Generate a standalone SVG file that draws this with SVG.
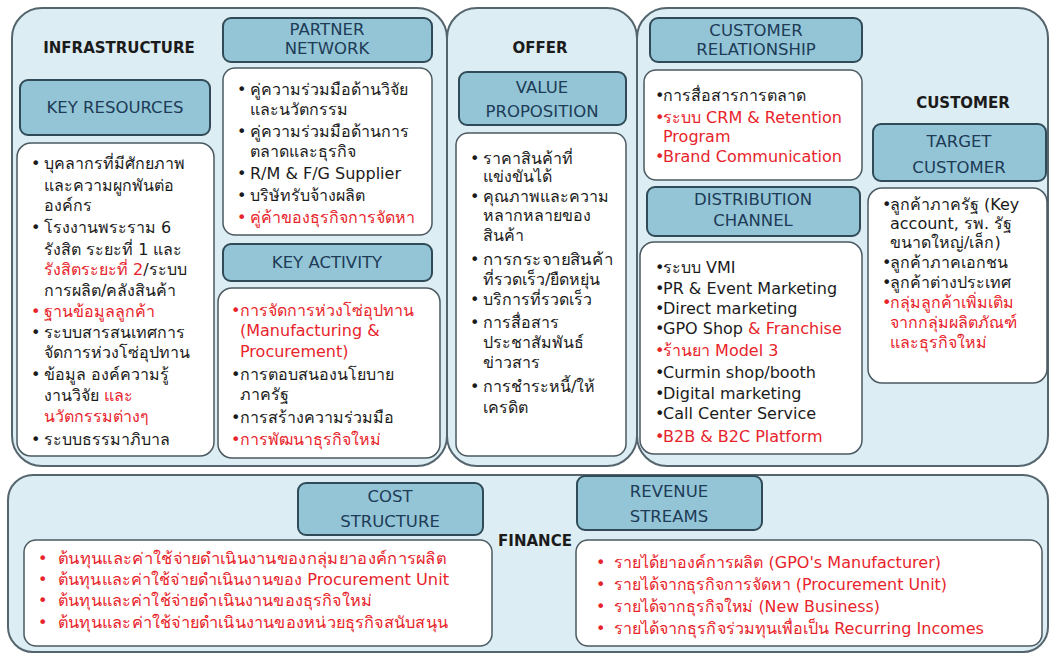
<svg xmlns="http://www.w3.org/2000/svg" width="1052" height="656" viewBox="0 0 1052 656">
<style>
.panel{fill:#dcedf3;stroke:#55656d;stroke-width:2}
.hdr{fill:#93c5d6;stroke:#304b57;stroke-width:2}
.box{fill:#ffffff;stroke:#4b5960;stroke-width:1.5}
.ht{font-family:"DejaVu Sans","Noto Sans",sans-serif;font-size:16.5px;fill:#203b56;text-anchor:middle}
.lbl{font-family:"DejaVu Sans","Noto Sans",sans-serif;font-size:15px;font-weight:bold;fill:#1b1b1b;text-anchor:middle}
.t{font-family:"DejaVu Sans","Noto Sans",sans-serif;font-size:16px;fill:#1b1b1b}
.r{fill:#e8242b}
</style>
<rect width="1052" height="656" fill="#ffffff"/>
<g id="panels">
<rect id="infrastructure" class="panel" x="12" y="8" width="435" height="458" rx="30"/>
<rect id="offer" class="panel" x="447" y="8" width="190" height="458" rx="30"/>
<rect id="customer" class="panel" x="637" y="8" width="411" height="458" rx="30"/>
<rect id="finance" class="panel" x="8" y="475" width="1040" height="177" rx="25"/>
<text class="lbl" x="119" y="53">INFRASTRUCTURE</text>
<text class="lbl" x="540" y="53">OFFER</text>
<text class="lbl" x="963" y="108">CUSTOMER</text>
<text class="lbl" x="535" y="546">FINANCE</text>
</g>
<g id="connectors"/>
<g id="key-resources">
<rect class="hdr" x="20" y="80" width="190" height="55" rx="8"/>
<text class="ht" x="115" y="113">KEY RESOURCES</text>
<rect class="box" x="17" y="143" width="197" height="313" rx="14"/>
<text class="t" x="31" y="169">•</text><text class="t" x="44" y="169">บุคลากรที่มีศักยภาพ</text>
<text class="t" x="44" y="191">และความผูกพันต่อ</text>
<text class="t" x="44" y="211">องค์กร</text>
<text class="t" x="31" y="233">•</text><text class="t" x="44" y="233">โรงงานพระราม 6</text>
<text class="t" x="44" y="255">รังสิต ระยะที่ 1 และ</text>
<text class="t" x="44" y="275"><tspan class="r">รังสิตระยะที่ 2</tspan>/ระบบ</text>
<text class="t" x="44" y="296">การผลิต/คลังสินค้า</text>
<text class="t r" x="31" y="317">•</text><text class="t r" x="44" y="317">ฐานข้อมูลลูกค้า</text>
<text class="t" x="31" y="338">•</text><text class="t" x="44" y="338">ระบบสารสนเทศการ</text>
<text class="t" x="44" y="358">จัดการห่วงโซ่อุปทาน</text>
<text class="t" x="31" y="380">•</text><text class="t" x="44" y="380">ข้อมูล องค์ความรู้</text>
<text class="t" x="44" y="401">งานวิจัย <tspan class="r">และ</tspan></text>
<text class="t r" x="44" y="422">นวัตกรรมต่างๆ</text>
<text class="t" x="31" y="445">•</text><text class="t" x="44" y="445">ระบบธรรมาภิบาล</text>
</g>
<g id="partner-network">
<rect class="hdr" x="223" y="18" width="209" height="44" rx="8"/>
<text class="ht" x="327" y="35">PARTNER</text>
<text class="ht" x="327" y="54">NETWORK</text>
<rect class="box" x="223" y="68" width="209" height="167" rx="12"/>
<text class="t" x="237" y="95">•</text><text class="t" x="250" y="95">คู่ความร่วมมือด้านวิจัย</text>
<text class="t" x="250" y="115">และนวัตกรรม</text>
<text class="t" x="237" y="137">•</text><text class="t" x="250" y="137">คู่ความร่วมมือด้านการ</text>
<text class="t" x="250" y="157">ตลาดและธุรกิจ</text>
<text class="t" x="237" y="179">•</text><text class="t" x="250" y="179">R/M &amp; F/G Supplier</text>
<text class="t" x="237" y="201">•</text><text class="t" x="250" y="201">บริษัทรับจ้างผลิต</text>
<text class="t r" x="237" y="223">•</text><text class="t r" x="250" y="223">คู่ค้าของธุรกิจการจัดหา</text>
</g>
<g id="key-activity">
<rect class="hdr" x="223" y="244" width="209" height="37" rx="8"/>
<text class="ht" x="327" y="268">KEY ACTIVITY</text>
<rect class="box" x="218" y="288" width="222" height="170" rx="14"/>
<text class="t r" x="231" y="316">•</text><text class="t r" x="240" y="316">การจัดการห่วงโซ่อุปทาน</text>
<text class="t r" x="240" y="336">(Manufacturing &amp;</text>
<text class="t r" x="240" y="357">Procurement)</text>
<text class="t" x="231" y="380">•</text><text class="t" x="240" y="380">การตอบสนองนโยบาย</text>
<text class="t" x="240" y="400">ภาครัฐ</text>
<text class="t" x="231" y="423">•</text><text class="t" x="240" y="423">การสร้างความร่วมมือ</text>
<text class="t r" x="231" y="445">•</text><text class="t r" x="240" y="445">การพัฒนาธุรกิจใหม่</text>
</g>
<g id="value-proposition">
<rect class="hdr" x="459" y="72" width="167" height="53" rx="8"/>
<text class="ht" x="542" y="93">VALUE</text>
<text class="ht" x="542" y="117">PROPOSITION</text>
<rect class="box" x="456" y="133" width="170" height="323" rx="12"/>
<text class="t" x="470" y="164">•</text><text class="t" x="483" y="164">ราคาสินค้าที่</text>
<text class="t" x="483" y="182">แข่งขันได้</text>
<text class="t" x="470" y="202">•</text><text class="t" x="483" y="202">คุณภาพและความ</text>
<text class="t" x="483" y="221">หลากหลายของ</text>
<text class="t" x="483" y="241">สินค้า</text>
<text class="t" x="470" y="265">•</text><text class="t" x="483" y="265" textLength="130" lengthAdjust="spacingAndGlyphs">การกระจายสินค้า</text>
<text class="t" x="483" y="285">ที่รวดเร็ว/ยืดหยุ่น</text>
<text class="t" x="470" y="305">•</text><text class="t" x="483" y="305">บริการที่รวดเร็ว</text>
<text class="t" x="470" y="328">•</text><text class="t" x="483" y="328">การสื่อสาร</text>
<text class="t" x="483" y="348">ประชาสัมพันธ์</text>
<text class="t" x="483" y="368">ข่าวสาร</text>
<text class="t" x="470" y="392">•</text><text class="t" x="483" y="392">การชำระหนี้/ให้</text>
<text class="t" x="483" y="413">เครดิต</text>
</g>
<g id="customer-relationship">
<rect class="hdr" x="650" y="18" width="212" height="44" rx="8"/>
<text class="ht" x="756" y="36">CUSTOMER</text>
<text class="ht" x="756" y="55">RELATIONSHIP</text>
<rect class="box" x="644" y="70" width="218" height="110" rx="12"/>
<text class="t" x="655" y="101">•</text><text class="t" x="663" y="101">การสื่อสารการตลาด</text>
<text class="t r" x="655" y="123">•</text><text class="t r" x="663" y="123">ระบบ CRM &amp; Retention</text>
<text class="t r" x="663" y="142">Program</text>
<text class="t r" x="655" y="162">•</text><text class="t r" x="663" y="162">Brand Communication</text>
</g>
<g id="distribution-channel">
<rect class="hdr" x="647" y="187" width="213" height="49" rx="8"/>
<text class="ht" x="753" y="205">DISTRIBUTION</text>
<text class="ht" x="753" y="226">CHANNEL</text>
<rect class="box" x="640" y="242" width="222" height="212" rx="14"/>
<text class="t" x="655" y="273">•</text><text class="t" x="663" y="273">ระบบ VMI</text>
<text class="t" x="655" y="294">•</text><text class="t" x="663" y="294">PR &amp; Event Marketing</text>
<text class="t" x="655" y="314">•</text><text class="t" x="663" y="314">Direct marketing</text>
<text class="t" x="655" y="334">•</text><text class="t" x="663" y="334">GPO Shop <tspan class="r">&amp; Franchise</tspan></text>
<text class="t r" x="655" y="356">•</text><text class="t r" x="663" y="356">ร้านยา Model 3</text>
<text class="t" x="655" y="378">•</text><text class="t" x="663" y="378">Curmin shop/booth</text>
<text class="t" x="655" y="399">•</text><text class="t" x="663" y="399">Digital marketing</text>
<text class="t" x="655" y="419">•</text><text class="t" x="663" y="419">Call Center Service</text>
<text class="t r" x="655" y="442">•</text><text class="t r" x="663" y="442">B2B &amp; B2C Platform</text>
</g>
<g id="target-customer">
<rect class="hdr" x="873" y="124" width="173" height="57" rx="8"/>
<text class="ht" x="959" y="147">TARGET</text>
<text class="ht" x="959" y="173">CUSTOMER</text>
<rect class="box" x="868" y="188" width="179" height="195" rx="14"/>
<text class="t" x="882" y="210">•</text><text class="t" x="890" y="210">ลูกค้าภาครัฐ (Key</text>
<text class="t" x="890" y="229">account, รพ. รัฐ</text>
<text class="t" x="890" y="248">ขนาดใหญ่/เล็ก)</text>
<text class="t" x="882" y="268">•</text><text class="t" x="890" y="268">ลูกค้าภาคเอกชน</text>
<text class="t" x="882" y="288">•</text><text class="t" x="890" y="288">ลูกค้าต่างประเทศ</text>
<text class="t r" x="882" y="308">•</text><text class="t r" x="890" y="308">กลุ่มลูกค้าเพิ่มเติม</text>
<text class="t r" x="890" y="328">จากกลุ่มผลิตภัณฑ์</text>
<text class="t r" x="890" y="348">และธุรกิจใหม่</text>
</g>
<g id="cost-structure">
<rect class="hdr" x="298" y="483" width="185" height="52" rx="8"/>
<text class="ht" x="390" y="502">COST</text>
<text class="ht" x="390" y="527">STRUCTURE</text>
<rect class="box" x="24" y="540" width="468" height="106" rx="12"/>
<text class="t r" x="38" y="564">•</text><text class="t r" x="58" y="564" textLength="388" lengthAdjust="spacingAndGlyphs">ต้นทุนและค่าใช้จ่ายดำเนินงานของกลุ่มยาองค์การผลิต</text>
<text class="t r" x="38" y="585">•</text><text class="t r" x="58" y="585" textLength="391" lengthAdjust="spacingAndGlyphs">ต้นทุนและค่าใช้จ่ายดำเนินงานของ Procurement Unit</text>
<text class="t r" x="38" y="606">•</text><text class="t r" x="58" y="606" textLength="314" lengthAdjust="spacingAndGlyphs">ต้นทุนและค่าใช้จ่ายดำเนินงานของธุรกิจใหม่</text>
<text class="t r" x="38" y="628">•</text><text class="t r" x="58" y="628" textLength="390" lengthAdjust="spacingAndGlyphs">ต้นทุนและค่าใช้จ่ายดำเนินงานของหน่วยธุรกิจสนับสนุน</text>
</g>
<g id="revenue-streams">
<rect class="hdr" x="577" y="476" width="185" height="54" rx="8"/>
<text class="ht" x="669" y="497">REVENUE</text>
<text class="ht" x="669" y="522">STREAMS</text>
<rect class="box" x="576" y="540" width="466" height="106" rx="12"/>
<text class="t r" x="596" y="568">•</text><text class="t r" x="614" y="568" textLength="327" lengthAdjust="spacingAndGlyphs">รายได้ยาองค์การผลิต (GPO's Manufacturer)</text>
<text class="t r" x="596" y="590">•</text><text class="t r" x="614" y="590" textLength="333" lengthAdjust="spacingAndGlyphs">รายได้จากธุรกิจการจัดหา (Procurement Unit)</text>
<text class="t r" x="596" y="612">•</text><text class="t r" x="614" y="612" textLength="266" lengthAdjust="spacingAndGlyphs">รายได้จากธุรกิจใหม่ (New Business)</text>
<text class="t r" x="596" y="634">•</text><text class="t r" x="614" y="634" textLength="370" lengthAdjust="spacingAndGlyphs">รายได้จากธุรกิจร่วมทุนเพื่อเป็น Recurring Incomes</text>
</g>
</svg>
